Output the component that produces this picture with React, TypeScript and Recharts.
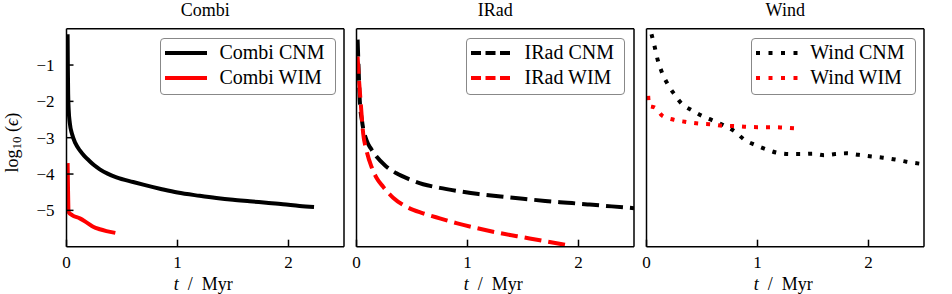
import React from "react";
import { Label, Legend, Line, LineChart, XAxis, YAxis } from "recharts";

const FONT = "'Liberation Serif', 'Times New Roman', 'DejaVu Serif', serif";

const panelTitles = ["Combi", "IRad", "Wind"];
const xTicks = [0, 1, 2];
const yTicks = [-5, -4, -3, -2, -1];

// t in Myr, values in log10(eps)
const combiCnmT = [0.01, 0.012, 0.015, 0.02, 0.03, 0.05, 0.08, 0.12, 0.16, 0.2, 0.25, 0.3, 0.37, 0.45, 0.6, 0.7, 0.85, 1.0, 1.2, 1.35, 1.5, 1.65, 1.8, 1.95, 2.1, 2.23];
const combiCnmV = [-0.15, -1.0, -1.8, -2.25, -2.6, -2.9, -3.15, -3.35, -3.5, -3.62, -3.76, -3.87, -3.99, -4.09, -4.22, -4.3, -4.41, -4.51, -4.6, -4.66, -4.71, -4.75, -4.79, -4.83, -4.88, -4.91];

const combiWimT = [0.01, 0.02, 0.05, 0.12, 0.18, 0.24, 0.3, 0.36, 0.44];
const combiWimV = [-3.7, -5.05, -5.13, -5.22, -5.33, -5.45, -5.52, -5.57, -5.62];

const iradCnmT = [0.01, 0.02, 0.03, 0.05, 0.09, 0.13, 0.18, 0.26, 0.36, 0.48, 0.6, 0.75, 0.9, 1.1, 1.3, 1.5, 1.7, 1.9, 2.1, 2.3, 2.5];
const iradCnmV = [-0.3, -1.2, -2.0, -2.55, -3.07, -3.3, -3.52, -3.77, -3.98, -4.15, -4.28, -4.38, -4.46, -4.55, -4.62, -4.68, -4.74, -4.79, -4.84, -4.89, -4.94];

const iradWimT = [0.01, 0.02, 0.036, 0.06, 0.09, 0.135, 0.18, 0.24, 0.33, 0.45, 0.6, 0.75, 0.9, 1.1, 1.3, 1.5, 1.7, 1.92];
const iradWimV = [-0.77, -1.3, -1.96, -2.88, -3.35, -3.8, -4.1, -4.35, -4.65, -4.9, -5.08, -5.22, -5.35, -5.5, -5.63, -5.74, -5.85, -5.97];

const windCnmT = [0.045, 0.07, 0.1, 0.14, 0.186, 0.25, 0.315, 0.405, 0.5, 0.6, 0.69, 0.8, 0.88, 0.98, 1.08, 1.17, 1.29, 1.4, 1.5, 1.6, 1.7, 1.8, 1.91, 2.01, 2.13, 2.24, 2.34, 2.5];
const windCnmV = [-0.15, -0.45, -0.85, -1.21, -1.5, -1.8, -2.06, -2.24, -2.4, -2.53, -2.65, -2.84, -3.05, -3.2, -3.32, -3.41, -3.45, -3.45, -3.44, -3.48, -3.45, -3.43, -3.47, -3.51, -3.55, -3.6, -3.66, -3.73];

const windWimT = [0.015, 0.025, 0.075, 0.144, 0.24, 0.345, 0.465, 0.57, 0.685, 0.8, 0.9, 1.0, 1.11, 1.22, 1.34];
const windWimV = [-1.85, -2.13, -2.17, -2.4, -2.5, -2.56, -2.61, -2.63, -2.67, -2.68, -2.7, -2.71, -2.71, -2.72, -2.74];

type Pt = { t: number; v: number };
const zip = (ts: number[], vs: number[]): Pt[] => ts.map((t, i) => ({ t, v: vs[i] }));

type Series = { name: string; color: string; data: Pt[] };
type PanelDef = { title: string; dash?: string; legendDash?: string; series: Series[] };

const panels: PanelDef[] = [
  {
    title: panelTitles[0],
    series: [
      { name: "Combi CNM", color: "#000000", data: zip(combiCnmT, combiCnmV) },
      { name: "Combi WIM", color: "#ff0000", data: zip(combiWimT, combiWimV) },
    ],
  },
  {
    title: panelTitles[1],
    dash: "17 7",
    legendDash: "10 4.5",
    series: [
      { name: "IRad CNM", color: "#000000", data: zip(iradCnmT, iradCnmV) },
      { name: "IRad WIM", color: "#ff0000", data: zip(iradWimT, iradWimV) },
    ],
  },
  {
    title: panelTitles[2],
    dash: "4 8",
    legendDash: "4 8.5",
    series: [
      { name: "Wind CNM", color: "#000000", data: zip(windCnmT, windCnmV) },
      { name: "Wind WIM", color: "#ff0000", data: zip(windWimT, windWimV) },
    ],
  },
];

const CHART_W = 352;
const CHART_H = 294;
const Y_AXIS_W = 66.5;
const axisStroke = { stroke: "#000", strokeWidth: 1.5 };
const tickText = { fill: "#000", fontSize: 17, fontFamily: FONT };
const minus = (v: number) => String(v).replace("-", "\u2212");

function LegendBox({ def }: { def: PanelDef }) {
  return (
    <div
      style={{
        border: "1px solid #888",
        borderRadius: 4,
        background: "#fff",
        padding: "1px 10px 4px 4px",
        fontFamily: FONT,
        fontSize: 20,
        color: "#000",
        whiteSpace: "nowrap",
      }}
    >
      {def.series.map((s) => (
        <div key={s.name} style={{ display: "flex", alignItems: "center", height: 25 }}>
          <svg width={42} height={6} style={{ display: "block" }}>
            <line x1={0} y1={3} x2={42} y2={3} stroke={s.color} strokeWidth={4} strokeDasharray={def.legendDash} />
          </svg>
          <span style={{ marginLeft: 12, lineHeight: "25px" }}>{s.name}</span>
        </div>
      ))}
    </div>
  );
}

function Panel({ def, left, first }: { def: PanelDef; left: number; first: boolean }) {
  return (
    <div style={{ position: "absolute", left, top: 0 }}>
      <LineChart width={CHART_W} height={CHART_H} margin={{ top: 27.7, right: 7, bottom: 17.3, left: 0 }}>
        <XAxis
          xAxisId="b"
          dataKey="t"
          type="number"
          domain={[0, 2.5]}
          ticks={xTicks}
          allowDataOverflow
          height={30}
          tickSize={-7}
          tickMargin={16}
          axisLine={axisStroke}
          tickLine={axisStroke}
          tick={tickText}
        >
          <Label
            content={(p: any) => {
              const vb = p.viewBox;
              return (
                <text x={vb.x + vb.width / 2 - 2} y={vb.y + 43} textAnchor="middle" fontFamily={FONT} fontSize={18} fill="#000" xmlSpace="preserve">
                  <tspan fontStyle="italic">t</tspan>
                  <tspan>{"\u2002/\u2002Myr"}</tspan>
                </text>
              );
            }}
          />
        </XAxis>
        <XAxis
          xAxisId="top"
          orientation="top"
          type="number"
          domain={[0, 2.5]}
          ticks={xTicks}
          allowDataOverflow
          height={1}
          tick={false}
          tickLine={false}
          axisLine={axisStroke}
        >
          <Label
            content={(p: any) => {
              const vb = p.viewBox;
              return (
                <text x={vb.x + vb.width / 2} y={vb.y - 11.5} textAnchor="middle" fontFamily={FONT} fontSize={18} fill="#000">
                  {def.title}
                </text>
              );
            }}
          />
        </XAxis>
        <YAxis
          yAxisId="l"
          type="number"
          domain={[-6, 0]}
          ticks={yTicks}
          allowDataOverflow
          width={Y_AXIS_W}
          tickSize={-7}
          tickMargin={19}
          axisLine={axisStroke}
          tickLine={axisStroke}
          tick={first ? tickText : false}
          tickFormatter={minus}
        >
          {first && (
            <Label
              content={(p: any) => {
                const vb = p.viewBox;
                const cx = vb.x + 12;
                const cy = vb.y + vb.height / 2 + 5;
                return (
                  <text x={cx} y={cy} transform={`rotate(-90 ${cx} ${cy})`} textAnchor="middle" dominantBaseline="central" fontFamily={FONT} fontSize={18} fill="#000">
                    <tspan>log</tspan>
                    <tspan fontSize={13} dy={4}>10</tspan>
                    <tspan dy={-4}> (</tspan>
                    <tspan fontStyle="italic">{"\u03f5"}</tspan>
                    <tspan>)</tspan>
                  </text>
                );
              }}
            />
          )}
        </YAxis>
        <YAxis
          yAxisId="r"
          orientation="right"
          type="number"
          domain={[-6, 0]}
          ticks={yTicks}
          allowDataOverflow
          width={1}
          tickSize={-7}
          tick={false}
          axisLine={axisStroke}
          tickLine={axisStroke}
        />
        {def.series.map((s) => (
          <Line
            key={s.name}
            xAxisId="b"
            yAxisId="l"
            data={s.data}
            dataKey="v"
            name={s.name}
            type="monotone"
            stroke={s.color}
            strokeWidth={4}
            strokeDasharray={def.dash}
            strokeLinecap="butt"
            dot={false}
            activeDot={false}
            isAnimationActive={false}
          />
        ))}
        <Legend
          layout="horizontal"
          verticalAlign="middle"
          align="center"
          wrapperStyle={{ top: 38.3, right: 16.5, left: "auto", width: "auto" }}
          content={() => <LegendBox def={def} />}
        />
      </LineChart>
    </div>
  );
}

export default function App() {
  const lefts = [0, 289.5, 580];
  return (
    <div style={{ position: "absolute", left: 0, top: 0, width: 952, height: 294, background: "#fff", overflow: "hidden" }}>
      {panels.map((def, i) => (
        <Panel key={def.title} def={def} left={lefts[i]} first={i === 0} />
      ))}
    </div>
  );
}
